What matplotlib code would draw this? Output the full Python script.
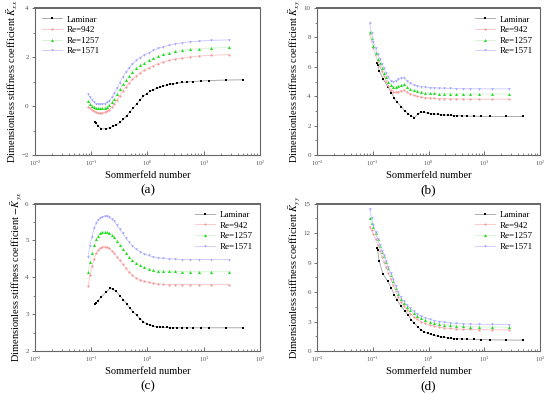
import numpy as np
import matplotlib
matplotlib.use('Agg')
import matplotlib.pyplot as plt
from matplotlib.ticker import MultipleLocator, LogLocator

plt.rcParams['font.family'] = ['Liberation Serif', 'DejaVu Serif']
plt.rcParams['mathtext.fontset'] = 'stix'

# Sommerfeld number, laminar and turbulent runs
S_lam = [0.119, 0.122, 0.131, 0.152, 0.185, 0.215, 0.245, 0.275, 0.324, 0.372, 0.427,
         0.489, 0.56, 0.64, 0.735, 0.84, 0.97, 1.11, 1.27, 1.46, 1.67, 1.91, 2.19,
         2.51, 2.88, 3.3, 4.05, 4.96, 6.5, 8.9, 12.6, 24.9, 50.0]
S_turb = [0.088, 0.095, 0.103, 0.112, 0.122, 0.133, 0.145, 0.158, 0.173, 0.19, 0.21,
          0.232, 0.257, 0.285, 0.32, 0.36, 0.41, 0.47, 0.54, 0.63, 0.74, 0.88, 1.05,
          1.27, 1.55, 1.92, 2.4, 3.1, 4.1, 5.6, 8.2, 13.5, 28.0]

# (a) Kxx
kxx_lam = [-0.65, -0.70, -0.80, -0.94, -0.92, -0.88, -0.83, -0.77, -0.67, -0.54, -0.40,
           -0.24, -0.08, 0.08, 0.24, 0.39, 0.51, 0.60, 0.67, 0.72, 0.77, 0.81, 0.85,
           0.88, 0.91, 0.93, 0.96, 0.98, 1.00, 1.02, 1.04, 1.06, 1.07]
kxx_942 = [-0.02, -0.10, -0.17, -0.22, -0.26, -0.28, -0.28, -0.27, -0.25, -0.21, -0.15,
           -0.05, 0.08, 0.24, 0.42, 0.60, 0.78, 0.94, 1.09, 1.23, 1.35, 1.46, 1.56,
           1.65, 1.73, 1.80, 1.86, 1.92, 1.96, 2.00, 2.04, 2.07, 2.10]
kxx_1257 = [0.20, 0.10, 0.01, -0.05, -0.08, -0.10, -0.10, -0.09, -0.07, -0.03, 0.04,
            0.15, 0.30, 0.48, 0.68, 0.88, 1.07, 1.24, 1.40, 1.54, 1.66, 1.77, 1.87,
            1.96, 2.04, 2.11, 2.17, 2.23, 2.27, 2.31, 2.34, 2.37, 2.39]
kxx_1571 = [0.48, 0.35, 0.24, 0.15, 0.10, 0.08, 0.07, 0.08, 0.10, 0.15, 0.22,
            0.35, 0.52, 0.72, 0.95, 1.17, 1.38, 1.56, 1.72, 1.86, 1.98, 2.09, 2.18,
            2.27, 2.35, 2.42, 2.48, 2.54, 2.58, 2.62, 2.65, 2.68, 2.70]

# (b) Kxy
kxy_lam = [6.28, 6.15, 5.73, 5.19, 4.65, 4.25, 3.85, 3.58, 3.30, 3.02, 2.82,
           2.65, 2.55, 2.78, 2.92, 2.90, 2.85, 2.82, 2.79, 2.76, 2.74, 2.72, 2.70,
           2.69, 2.68, 2.67, 2.66, 2.65, 2.64, 2.63, 2.63, 2.62, 2.62]
kxy_942 = [8.2, 7.75, 7.25, 6.8, 6.4, 6.05, 5.7, 5.4, 5.05, 4.72, 4.45,
           4.28, 4.28, 4.32, 4.38, 4.42, 4.28, 4.15, 4.06, 4.0, 3.95, 3.91, 3.88,
           3.86, 3.84, 3.83, 3.82, 3.81, 3.81, 3.80, 3.80, 3.80, 3.80]
kxy_1257 = [8.4, 7.95, 7.45, 6.95, 6.55, 6.25, 5.9, 5.6, 5.3, 5.0, 4.78,
            4.65, 4.63, 4.67, 4.75, 4.82, 4.65, 4.50, 4.40, 4.33, 4.28, 4.24, 4.21,
            4.19, 4.18, 4.17, 4.16, 4.16, 4.15, 4.15, 4.15, 4.15, 4.15]
kxy_1571 = [8.95, 8.3, 7.7, 7.25, 6.9, 6.55, 6.2, 5.92, 5.6, 5.3, 5.05,
            4.98, 5.05, 5.15, 5.22, 5.27, 5.05, 4.88, 4.78, 4.70, 4.66, 4.62, 4.59,
            4.57, 4.55, 4.54, 4.53, 4.52, 4.51, 4.51, 4.50, 4.50, 4.50]

# (c) -Kyx
kyx_lam = [3.27, 3.30, 3.36, 3.47, 3.60, 3.70, 3.67, 3.62, 3.50, 3.39, 3.28,
           3.16, 3.06, 2.97, 2.88, 2.80, 2.74, 2.70, 2.68, 2.66, 2.65, 2.64, 2.64,
           2.63, 2.63, 2.63, 2.63, 2.63, 2.63, 2.63, 2.63, 2.63, 2.63]
kyx_942 = [3.75, 4.05, 4.30, 4.50, 4.65, 4.74, 4.80, 4.83, 4.83, 4.81, 4.78,
           4.72, 4.65, 4.56, 4.46, 4.35, 4.24, 4.14, 4.05, 3.98, 3.93, 3.89, 3.86,
           3.84, 3.82, 3.81, 3.80, 3.80, 3.80, 3.80, 3.80, 3.80, 3.80]
kyx_1257 = [4.15, 4.42, 4.67, 4.88, 5.03, 5.13, 5.19, 5.22, 5.23, 5.22, 5.20,
            5.15, 5.08, 4.98, 4.88, 4.77, 4.66, 4.55, 4.46, 4.38, 4.32, 4.27, 4.23,
            4.20, 4.18, 4.17, 4.16, 4.16, 4.15, 4.15, 4.15, 4.15, 4.15]
kyx_1571 = [4.55, 4.85, 5.10, 5.33, 5.47, 5.56, 5.61, 5.64, 5.65, 5.65, 5.63,
            5.58, 5.52, 5.42, 5.31, 5.19, 5.07, 4.95, 4.85, 4.76, 4.69, 4.63, 4.59,
            4.55, 4.53, 4.51, 4.50, 4.49, 4.48, 4.48, 4.48, 4.48, 4.48]

# (d) Kyy
kyy_lam = [10.45, 10.25, 9.12, 7.85, 7.1, 6.4, 5.7, 5.15, 4.55, 4.1, 3.7,
           3.2, 2.8, 2.45, 2.15, 1.95, 1.8, 1.68, 1.58, 1.50, 1.43, 1.38, 1.34,
           1.30, 1.27, 1.25, 1.22, 1.20, 1.18, 1.16, 1.14, 1.12, 1.10]
kyy_942 = [12.6, 12.3, 11.9, 11.4, 10.8, 10.2, 9.6, 9.1, 8.5, 7.9, 7.3,
           6.7, 6.1, 5.5, 4.95, 4.55, 4.15, 3.8, 3.5, 3.22, 3.0, 2.8, 2.65,
           2.53, 2.43, 2.35, 2.29, 2.24, 2.21, 2.19, 2.17, 2.16, 2.15]
kyy_1257 = [13.5, 13.0, 12.6, 12.0, 11.4, 10.7, 10.1, 9.7, 9.1, 8.4, 7.75,
            7.1, 6.45, 5.8, 5.25, 4.85, 4.5, 4.15, 3.85, 3.55, 3.32, 3.12, 2.98,
            2.86, 2.76, 2.66, 2.6, 2.55, 2.51, 2.48, 2.46, 2.44, 2.42]
kyy_1571 = [14.4, 13.5, 12.8, 12.1, 11.4, 10.8, 10.2, 9.75, 9.2, 8.55, 7.9,
            7.3, 6.65, 6.0, 5.45, 5.05, 4.7, 4.35, 4.05, 3.78, 3.55, 3.36, 3.22,
            3.1, 3.0, 2.92, 2.85, 2.8, 2.76, 2.73, 2.71, 2.70, 2.68]

labels = ['Laminar', 'Re=942', 'Re=1257', 'Re=1571']

panels = [
    ('(a)', r'$\bar{K}_{xx}$', [kxx_lam, kxx_942, kxx_1257, kxx_1571], (-2, 4), 2, 1, 'upper left'),
    ('(b)', r'$\bar{K}_{xy}$', [kxy_lam, kxy_942, kxy_1257, kxy_1571], (0, 10), 2, 1, 'upper right'),
    ('(c)', r'$-\bar{K}_{yx}$', [kyx_lam, kyx_942, kyx_1257, kyx_1571], (2, 6), 1, 0.5, 'upper right'),
    ('(d)', r'$\bar{K}_{yy}$', [kyy_lam, kyy_942, kyy_1257, kyy_1571], (0, 15), 3, 1.5, 'upper right'),
]

# axes boxes in figure fraction [left, bottom, width, height], panel tag y (axes frac)
boxes = [[0.0636, 0.6066, 0.409, 0.373],
         [0.5764, 0.6066, 0.4055, 0.373],
         [0.0636, 0.1091, 0.409, 0.3744],
         [0.5764, 0.1091, 0.4055, 0.3744]]
tag_y = [-0.24, -0.24, -0.238, -0.238]

fig = plt.figure(figsize=(5.5, 3.94), dpi=100)

for (tag, sym, ys, ylim, major, minor, loc), box, ty in zip(panels, boxes, tag_y):
    ax = fig.add_axes(box)
    ax.plot(S_lam, ys[0], '-s', color='#a0a0a0', lw=0.6, ms=1.9, mew=0,
            mfc='black', label=labels[0])
    ax.plot(S_turb, ys[1], '-o', color='#f9c4c4', lw=0.6, ms=1.6, mew=0,
            mfc='#f29a9a', label=labels[1])
    ax.plot(S_turb, ys[2], '-^', color='#d2f3d2', lw=0.6, ms=2.2, mew=0,
            mfc='#22dd22', label=labels[2])
    ax.plot(S_turb, ys[3], '-v', color='#c8c8ff', lw=0.6, ms=1.8, mew=0,
            mfc='#a0a0ff', label=labels[3])
    ax.set_xscale('log')
    ax.set_xlim(1e-2, 1e2)
    ax.set_ylim(*ylim)
    ax.yaxis.set_major_locator(MultipleLocator(major))
    ax.yaxis.set_minor_locator(MultipleLocator(minor))
    ax.xaxis.set_major_locator(LogLocator(base=10, numticks=10))
    ax.xaxis.set_minor_locator(LogLocator(base=10, subs=np.arange(2, 10), numticks=20))
    ax.tick_params(axis='x', which='both', direction='in', colors='#555555', labelsize=4.5,
                   top=False, pad=3)
    ax.tick_params(axis='x', which='major', length=3, width=0.6)
    ax.tick_params(axis='x', which='minor', length=1.8, width=0.5)
    ax.tick_params(axis='y', which='both', direction='out', colors='#555555', labelsize=5,
                   right=False, pad=2)
    ax.tick_params(axis='y', which='major', length=2.5, width=0.6)
    ax.tick_params(axis='y', which='minor', length=1.5, width=0.5)
    for side, sp in ax.spines.items():
        sp.set_color('#666666')
        sp.set_linewidth(0.8)
    ax.spines['top'].set_linewidth(1.4)
    ax.set_xlabel('Sommerfeld number', fontsize=7.5, labelpad=2)
    ax.set_ylabel('Dimensionless stiffness coefficient ' + sym, fontsize=7.5, labelpad=1)
    ax.legend(loc=loc, frameon=False, fontsize=6.5, handlelength=2.2,
              handletextpad=0.5, labelspacing=0.25, borderaxespad=0.4)
    ax.text(0.5, ty, tag, transform=ax.transAxes, ha='center', va='center', fontsize=9.5)

fig.savefig('out.png', dpi=100)
